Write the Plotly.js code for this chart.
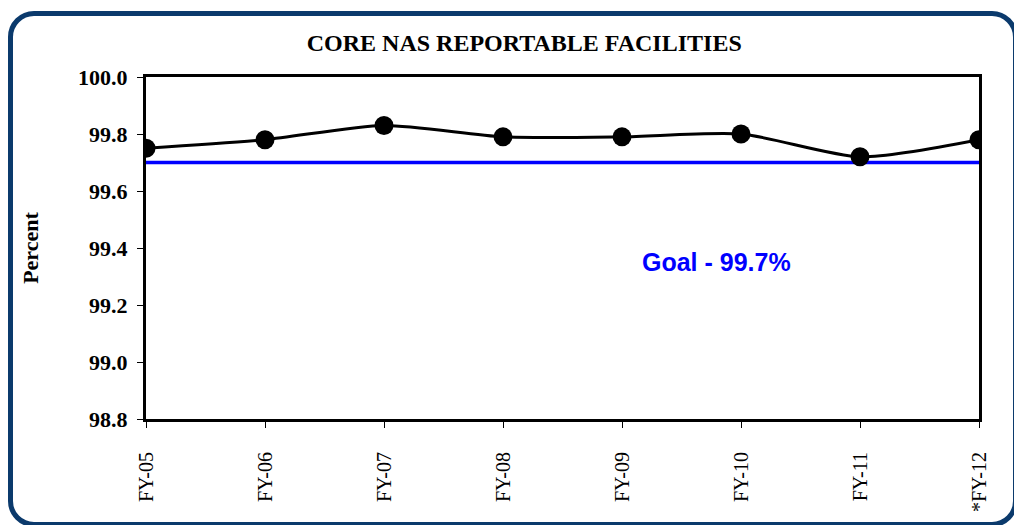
<!DOCTYPE html>
<html>
<head>
<meta charset="utf-8">
<script src="https://cdn.plot.ly/plotly-3.0.1.min.js"></script>
<style>
  body { margin: 0; background: #fff; }
  #grafica { position: absolute; left: 0; top: 0; width: 1014px; height: 525px; }
  #marco {
    position: absolute; left: 8px; top: 11px; width: 1000px; height: 506px;
    border: 5px solid #0b3a6c; border-radius: 26px; pointer-events: none;
  }
</style>
</head>
<body>
<div id="grafica"></div>
<div id="marco"></div>
<script>
// datos
var anios = ['FY-05', 'FY-06', 'FY-07', 'FY-08', 'FY-09', 'FY-10', 'FY-11', '*FY-12'];
var porcentaje = [99.75, 99.78, 99.83, 99.79, 99.79, 99.80, 99.72, 99.78];
var meta = [99.7, 99.7, 99.7, 99.7, 99.7, 99.7, 99.7, 99.7];
var valoresY = [98.8, 99.0, 99.2, 99.4, 99.6, 99.8, 100.0];

var serif = 'Liberation Serif, Times New Roman, serif';

var traceMeta = {
  x: anios, y: meta, type: 'scatter', mode: 'lines', name: 'Goal',
  line: {color: '#0000ff', width: 3.5}, hoverinfo: 'skip'
};
var tracePorc = {
  x: anios, y: porcentaje, type: 'scatter', mode: 'lines+markers', name: 'Percent',
  line: {color: '#000000', width: 3, shape: 'spline', smoothing: 0.7},
  marker: {color: '#000000', size: 19}
};

var layout = {
  width: 1014, height: 525,
  margin: {l: 146, r: 35, t: 77, b: 106},
  paper_bgcolor: '#ffffff', plot_bgcolor: '#ffffff',
  showlegend: false,
  title: {
    text: 'CORE NAS REPORTABLE FACILITIES',
    font: {family: serif, size: 24, weight: 'bold', color: '#000'},
    x: 0.517, xref: 'container', y: 0.918, yref: 'container', yanchor: 'middle'
  },
  xaxis: {
    type: 'category', range: [0, 7], fixedrange: true,
    showline: true, linecolor: '#000', linewidth: 3, mirror: true,
    showgrid: false, zeroline: false,
    ticks: 'outside', ticklen: 6, tickwidth: 1, tickcolor: '#000',
    ticklabelstandoff: 16,
    tickangle: -90, tickfont: {family: serif, size: 20, color: '#000'}
  },
  yaxis: {
    range: [98.8, 100.0], tickvals: valoresY, tickformat: '.1f', fixedrange: true,
    showline: true, linecolor: '#000', linewidth: 3, mirror: true,
    showgrid: false, zeroline: false,
    ticks: 'outside', ticklen: 6, tickwidth: 1, tickcolor: '#000',
    ticklabelstandoff: 5,
    tickfont: {family: serif, size: 22, weight: 'bold', color: '#000'},
    title: {text: 'Percent', font: {family: serif, size: 22, weight: 'bold', color: '#000'}, standoff: 34}
  },
  annotations: [{
    text: 'Goal - 99.7%', x: 4.79, y: 99.35, xref: 'x', yref: 'y', showarrow: false,
    font: {family: 'Liberation Sans, Arial, sans-serif', size: 25, weight: 'bold', color: '#0000ff'}
  }]
};

Plotly.newPlot('grafica', [traceMeta, tracePorc], layout, {staticPlot: true});
</script>
</body>
</html>
